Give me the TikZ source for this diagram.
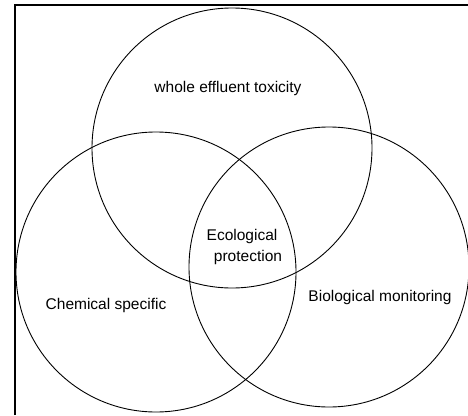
\documentclass[tikz,border=0pt]{standalone}
\usepackage{fontspec}
\setmainfont{Liberation Sans}
\usetikzlibrary{positioning}

\begin{document}
\begin{tikzpicture}
    [x=1pt, y=-1pt,
    %auto,
    line width=0.9pt,
    set/.style={draw, circle, inner sep=0pt, minimum size=280pt},
    label/.style={font=\fontsize{15.5}{21}\selectfont, inner sep=0pt, align=center}]
        \useasboundingbox (0,0) rectangle (468,415);

        %% Frame
        \coordinate (F1) at (15,415);
        \coordinate (F2) at (15,5);
        \coordinate (F3) at (468,5);
        \draw[line width=2pt] (F1) -- (F2) -- (F3);

        %% Sets
        \node[set] (WET) at (232,148) {};
        \node[set] (CS) at (156,272) {};
        \node[set] (BM) at (329,267) {};

        %% Labels
        \node[label] (WETl) at (228,88) {whole effluent toxicity};
        \node[label] (CSl) at (106,305) {Chemical specific};
        \node[label] (BMl) at (380,297) {Biological monitoring};
        \node[label] (EP) at (242,247) {Ecological\\\hspace{12pt}protection};
    \end{tikzpicture}
\end{document}
